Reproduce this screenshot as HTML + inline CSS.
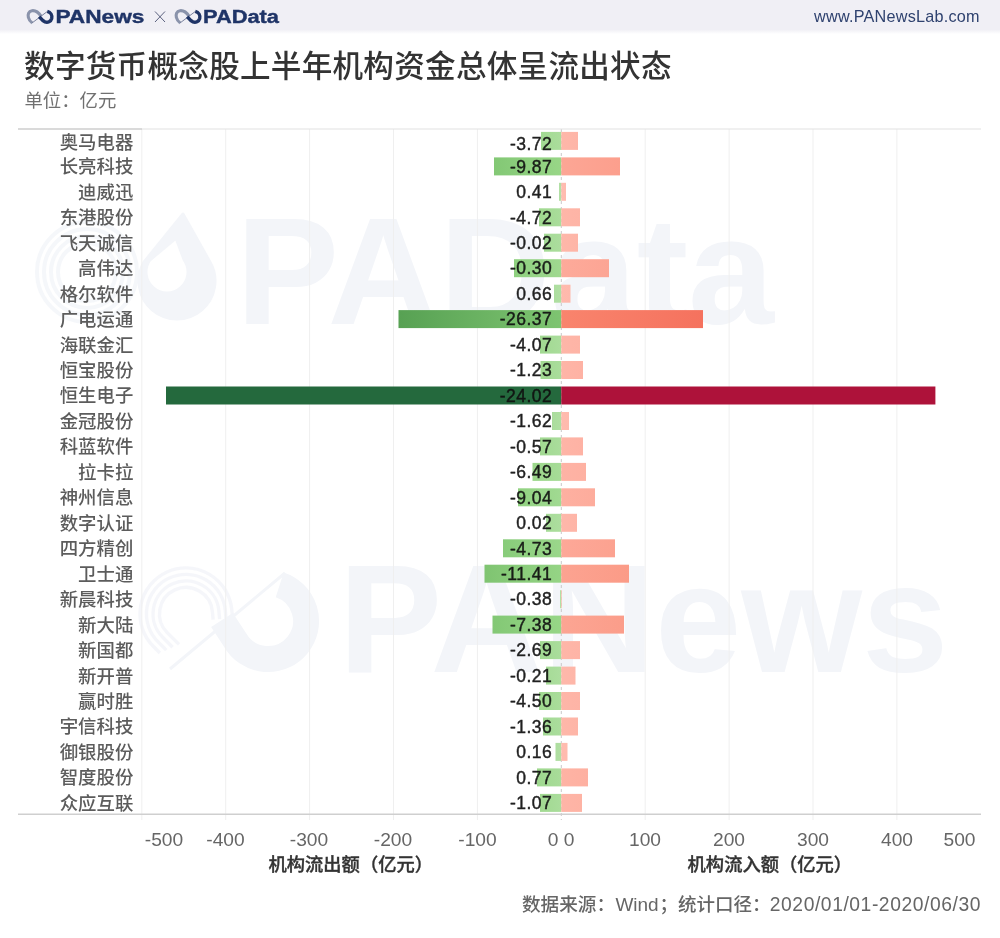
<!DOCTYPE html>
<html lang="zh"><head><meta charset="utf-8"><title>数字货币概念股上半年机构资金总体呈流出状态</title>
<style>
html,body{margin:0;padding:0;background:#fff;}
body{width:1000px;height:938px;overflow:hidden;font-family:"Liberation Sans","Noto Sans CJK SC",sans-serif;}
svg{display:block}
text{font-family:"Liberation Sans","Noto Sans CJK SC",sans-serif;}
.lab{font-size:18.4px;fill:#5c5c5c;font-weight:500;text-anchor:end}
.val{font-size:17.5px;fill:#101010;text-anchor:end;letter-spacing:0.45px;stroke:#101010;stroke-width:0.45px;opacity:0.93}
.tick{font-size:19.2px;fill:#666;text-anchor:middle}
.axt{font-size:18.3px;fill:#333;stroke:#333;stroke-width:0.35px;font-weight:500;text-anchor:middle}
</style></head><body>
<svg width="1000" height="938" viewBox="0 0 1000 938">
<defs>
<linearGradient id="hd" x1="0" y1="0" x2="0" y2="1"><stop offset="0" stop-color="#f0eff5"/><stop offset="0.87" stop-color="#f0eff5"/><stop offset="1" stop-color="#ffffff"/></linearGradient>
</defs>
<rect width="1000" height="938" fill="#fff"/>
<rect width="1000" height="34" fill="url(#hd)"/>

<g transform="translate(0,0)" fill="none" stroke-linecap="butt"><path d="M41 16.2 C38 11.5 34.5 10.4 32 10.7 C28.6 11.2 27.6 14.5 28.4 17.5 C29 20 30.5 21.8 32.2 22.8" stroke="#8a93ab" stroke-width="3.1"/><path d="M32 23 L47.5 11.3" stroke="#5a6585" stroke-width="0.8"/><path d="M47.3 11.4 C50.8 12.4 52.4 15.5 51.7 18.5 C50.9 21.6 47.6 22.9 45 21.9 C42.6 20.9 41 18.6 39.3 16.6" stroke="#1f3467" stroke-width="3.4"/></g>
<text x="55.4" y="23.1" font-size="19.2" font-weight="700" fill="#1f3467" stroke="#1f3467" stroke-width="0.4" textLength="89" lengthAdjust="spacingAndGlyphs">PANews</text>
<path d="M155 11.5 L165 22 M165 11.5 L155 22" stroke="#4a5070" stroke-width="0.9" fill="none"/>
<g transform="translate(148,0)" fill="none" stroke-linecap="butt"><path d="M41 16.2 C38 11.5 34.5 10.4 32 10.7 C28.6 11.2 27.6 14.5 28.4 17.5 C29 20 30.5 21.8 32.2 22.8" stroke="#8a93ab" stroke-width="3.1"/><path d="M32 23 L47.5 11.3" stroke="#5a6585" stroke-width="0.8"/><path d="M47.3 11.4 C50.8 12.4 52.4 15.5 51.7 18.5 C50.9 21.6 47.6 22.9 45 21.9 C42.6 20.9 41 18.6 39.3 16.6" stroke="#1f3467" stroke-width="3.4"/></g>
<text x="203" y="23.1" font-size="19.2" font-weight="700" fill="#1f3467" stroke="#1f3467" stroke-width="0.4" textLength="76" lengthAdjust="spacingAndGlyphs">PAData</text>
<text x="979.5" y="21.6" font-size="16.2" fill="#2f426f" text-anchor="end" textLength="165.4" lengthAdjust="spacing">www.PANewsLab.com</text>
<text x="24.1" y="77.3" font-size="30.6" fill="#333" font-weight="500" letter-spacing="0.25">数字货币概念股上半年机构资金总体呈流出状态</text>
<text x="24.4" y="107.4" font-size="18.4" fill="#707070">单位：亿元</text>
<g fill="none" stroke="#f3f5f9">
<circle cx="87" cy="272" r="50" stroke-width="4" opacity="0.8"/><circle cx="87" cy="272" r="43" stroke-width="4" opacity="0.8"/><circle cx="87" cy="272" r="36" stroke-width="4" opacity="0.8"/><circle cx="87" cy="272" r="29" stroke-width="4" opacity="0.8"/>
<path d="M183 214 L209.9 262 A38 38 0 1 1 144.1 262 Z M176 238 L184.2 260 A21 21 0 1 1 149.8 260 Z" fill="#f3f5f9" fill-rule="evenodd" stroke="#f3f5f9" stroke-width="3" stroke-linejoin="round"/>
</g>
<text x="236" y="323.5" font-size="153" font-weight="700" fill="#f3f5f9" textLength="538" lengthAdjust="spacingAndGlyphs">PAData</text>
<g fill="none" stroke="#f3f5f9">
<path d="M159.9 653.0 L153.5 646.5 A46 46 0 1 1 231.8 610.0 L232.5 618.0" stroke-width="3.4" opacity="0.85"/>
<path d="M166.3 650.1 L158.1 641.9 A39.5 39.5 0 1 1 225.3 610.6 L226.0 618.5" stroke-width="3.4" opacity="0.85"/>
<path d="M172.6 647.3 L162.7 637.3 A33 33 0 1 1 218.9 611.1 L219.6 619.1" stroke-width="3.4" opacity="0.85"/>
<path d="M179.0 644.4 L167.3 632.7 A26.5 26.5 0 1 1 212.4 611.7 L213.1 619.7" stroke-width="3.4" opacity="0.85"/>
<path d="M170 669 L285 573" stroke-width="3"/>
<path d="M279.7 584.9 A38 38 0 1 1 235.1 640.0 L222 620" stroke-width="26" stroke-linejoin="round"/>
</g>
<text x="338.5" y="672" font-size="154" font-weight="700" fill="#f3f5f9" textLength="610" lengthAdjust="spacingAndGlyphs">PANews</text>
<g stroke="#efefef" stroke-width="1">
<line x1="141.8" y1="129" x2="141.8" y2="820"/>
<line x1="225.7" y1="129" x2="225.7" y2="820"/>
<line x1="309.6" y1="129" x2="309.6" y2="820"/>
<line x1="393.5" y1="129" x2="393.5" y2="820"/>
<line x1="477.4" y1="129" x2="477.4" y2="820"/>
<line x1="645.2" y1="129" x2="645.2" y2="820"/>
<line x1="729.1" y1="129" x2="729.1" y2="820"/>
<line x1="813.0" y1="129" x2="813.0" y2="820"/>
<line x1="896.9" y1="129" x2="896.9" y2="820"/>
</g>
<line x1="561.3" y1="129" x2="561.3" y2="820" stroke="#c8c8c8" stroke-width="1" stroke-dasharray="3 3"/>
<line x1="18" y1="129" x2="981" y2="129" stroke="#e2e2e2" stroke-width="1.2"/>
<line x1="18" y1="129" x2="142" y2="129" stroke="#c4c4c4" stroke-width="1.2"/>
<line x1="18" y1="814.2" x2="981" y2="814.2" stroke="#cfcfcf" stroke-width="1.4"/>
<linearGradient id="g0" x1="1" y1="0" x2="0" y2="0"><stop offset="0" stop-color="#abdd9c"/><stop offset="1" stop-color="#a1da92"/></linearGradient>
<linearGradient id="r0" x1="0" y1="0" x2="1" y2="0"><stop offset="0" stop-color="#feb7a9"/><stop offset="1" stop-color="#feb5a7"/></linearGradient>
<rect x="541.0" y="131.9" width="20.3" height="18.0" fill="url(#g0)"/>
<rect x="561.3" y="131.9" width="16.7" height="18.0" fill="url(#r0)"/>
<linearGradient id="g1" x1="1" y1="0" x2="0" y2="0"><stop offset="0" stop-color="#98d687"/><stop offset="1" stop-color="#83c875"/></linearGradient>
<linearGradient id="r1" x1="0" y1="0" x2="1" y2="0"><stop offset="0" stop-color="#fca695"/><stop offset="1" stop-color="#fc9f8d"/></linearGradient>
<rect x="494.0" y="157.4" width="67.3" height="18.0" fill="url(#g1)"/>
<rect x="561.3" y="157.4" width="58.7" height="18.0" fill="url(#r1)"/>
<linearGradient id="g2" x1="1" y1="0" x2="0" y2="0"><stop offset="0" stop-color="#b2e0a5"/><stop offset="1" stop-color="#b1dfa4"/></linearGradient>
<linearGradient id="r2" x1="0" y1="0" x2="1" y2="0"><stop offset="0" stop-color="#ffbcb0"/><stop offset="1" stop-color="#ffbbaf"/></linearGradient>
<rect x="559.0" y="182.8" width="2.3" height="18.0" fill="url(#g2)"/>
<rect x="561.3" y="182.8" width="4.7" height="18.0" fill="url(#r2)"/>
<linearGradient id="g3" x1="1" y1="0" x2="0" y2="0"><stop offset="0" stop-color="#aadd9b"/><stop offset="1" stop-color="#a0d990"/></linearGradient>
<linearGradient id="r3" x1="0" y1="0" x2="1" y2="0"><stop offset="0" stop-color="#feb6a8"/><stop offset="1" stop-color="#feb4a6"/></linearGradient>
<rect x="539.0" y="208.3" width="22.3" height="18.0" fill="url(#g3)"/>
<rect x="561.3" y="208.3" width="18.7" height="18.0" fill="url(#r3)"/>
<linearGradient id="g4" x1="1" y1="0" x2="0" y2="0"><stop offset="0" stop-color="#acdd9e"/><stop offset="1" stop-color="#a4db95"/></linearGradient>
<linearGradient id="r4" x1="0" y1="0" x2="1" y2="0"><stop offset="0" stop-color="#feb7a9"/><stop offset="1" stop-color="#feb5a7"/></linearGradient>
<rect x="544.0" y="233.7" width="17.3" height="18.0" fill="url(#g4)"/>
<rect x="561.3" y="233.7" width="16.7" height="18.0" fill="url(#r4)"/>
<linearGradient id="g5" x1="1" y1="0" x2="0" y2="0"><stop offset="0" stop-color="#a0d990"/><stop offset="1" stop-color="#8ed07f"/></linearGradient>
<linearGradient id="r5" x1="0" y1="0" x2="1" y2="0"><stop offset="0" stop-color="#fdaa9a"/><stop offset="1" stop-color="#fca594"/></linearGradient>
<rect x="514.0" y="259.2" width="47.3" height="18.0" fill="url(#g5)"/>
<rect x="561.3" y="259.2" width="47.7" height="18.0" fill="url(#r5)"/>
<linearGradient id="g6" x1="1" y1="0" x2="0" y2="0"><stop offset="0" stop-color="#b0dfa3"/><stop offset="1" stop-color="#adde9f"/></linearGradient>
<linearGradient id="r6" x1="0" y1="0" x2="1" y2="0"><stop offset="0" stop-color="#ffbaad"/><stop offset="1" stop-color="#feb9ac"/></linearGradient>
<rect x="554.0" y="284.7" width="7.3" height="18.0" fill="url(#g6)"/>
<rect x="561.3" y="284.7" width="9.2" height="18.0" fill="url(#r6)"/>
<linearGradient id="g7" x1="1" y1="0" x2="0" y2="0"><stop offset="0" stop-color="#7ec471"/><stop offset="1" stop-color="#57a153"/></linearGradient>
<linearGradient id="r7" x1="0" y1="0" x2="1" y2="0"><stop offset="0" stop-color="#f9846d"/><stop offset="1" stop-color="#f5725e"/></linearGradient>
<rect x="398.5" y="310.1" width="162.8" height="18.0" fill="url(#g7)"/>
<rect x="561.3" y="310.1" width="141.7" height="18.0" fill="url(#r7)"/>
<linearGradient id="g8" x1="1" y1="0" x2="0" y2="0"><stop offset="0" stop-color="#aadd9c"/><stop offset="1" stop-color="#a1d991"/></linearGradient>
<linearGradient id="r8" x1="0" y1="0" x2="1" y2="0"><stop offset="0" stop-color="#feb6a8"/><stop offset="1" stop-color="#feb4a6"/></linearGradient>
<rect x="540.0" y="335.6" width="21.3" height="18.0" fill="url(#g8)"/>
<rect x="561.3" y="335.6" width="18.7" height="18.0" fill="url(#r8)"/>
<linearGradient id="g9" x1="1" y1="0" x2="0" y2="0"><stop offset="0" stop-color="#aadd9c"/><stop offset="1" stop-color="#a1d991"/></linearGradient>
<linearGradient id="r9" x1="0" y1="0" x2="1" y2="0"><stop offset="0" stop-color="#feb5a7"/><stop offset="1" stop-color="#feb2a4"/></linearGradient>
<rect x="540.5" y="361.0" width="20.8" height="18.0" fill="url(#g9)"/>
<rect x="561.3" y="361.0" width="21.7" height="18.0" fill="url(#r9)"/>
<rect x="166.0" y="386.5" width="395.3" height="18.0" fill="#24693d"/>
<rect x="561.3" y="386.5" width="374.1" height="18.0" fill="#ae123a"/>
<linearGradient id="g11" x1="1" y1="0" x2="0" y2="0"><stop offset="0" stop-color="#afdfa2"/><stop offset="1" stop-color="#abdd9d"/></linearGradient>
<linearGradient id="r11" x1="0" y1="0" x2="1" y2="0"><stop offset="0" stop-color="#ffbbae"/><stop offset="1" stop-color="#ffbaad"/></linearGradient>
<rect x="552.0" y="412.0" width="9.3" height="18.0" fill="url(#g11)"/>
<rect x="561.3" y="412.0" width="7.7" height="18.0" fill="url(#r11)"/>
<linearGradient id="g12" x1="1" y1="0" x2="0" y2="0"><stop offset="0" stop-color="#aadd9c"/><stop offset="1" stop-color="#a1d991"/></linearGradient>
<linearGradient id="r12" x1="0" y1="0" x2="1" y2="0"><stop offset="0" stop-color="#feb5a7"/><stop offset="1" stop-color="#feb2a4"/></linearGradient>
<rect x="540.0" y="437.4" width="21.3" height="18.0" fill="url(#g12)"/>
<rect x="561.3" y="437.4" width="21.7" height="18.0" fill="url(#r12)"/>
<linearGradient id="g13" x1="1" y1="0" x2="0" y2="0"><stop offset="0" stop-color="#a7dc98"/><stop offset="1" stop-color="#9bd78a"/></linearGradient>
<linearGradient id="r13" x1="0" y1="0" x2="1" y2="0"><stop offset="0" stop-color="#feb3a5"/><stop offset="1" stop-color="#feb1a2"/></linearGradient>
<rect x="532.5" y="462.9" width="28.8" height="18.0" fill="url(#g13)"/>
<rect x="561.3" y="462.9" width="24.7" height="18.0" fill="url(#r13)"/>
<linearGradient id="g14" x1="1" y1="0" x2="0" y2="0"><stop offset="0" stop-color="#a1da92"/><stop offset="1" stop-color="#91d281"/></linearGradient>
<linearGradient id="r14" x1="0" y1="0" x2="1" y2="0"><stop offset="0" stop-color="#feb0a1"/><stop offset="1" stop-color="#fdac9c"/></linearGradient>
<rect x="518.0" y="488.3" width="43.3" height="18.0" fill="url(#g14)"/>
<rect x="561.3" y="488.3" width="33.7" height="18.0" fill="url(#r14)"/>
<linearGradient id="g15" x1="1" y1="0" x2="0" y2="0"><stop offset="0" stop-color="#adde9f"/><stop offset="1" stop-color="#a6db97"/></linearGradient>
<linearGradient id="r15" x1="0" y1="0" x2="1" y2="0"><stop offset="0" stop-color="#feb7aa"/><stop offset="1" stop-color="#feb5a7"/></linearGradient>
<rect x="546.0" y="513.8" width="15.3" height="18.0" fill="url(#g15)"/>
<rect x="561.3" y="513.8" width="15.7" height="18.0" fill="url(#r15)"/>
<linearGradient id="g16" x1="1" y1="0" x2="0" y2="0"><stop offset="0" stop-color="#9bd78b"/><stop offset="1" stop-color="#88cc7a"/></linearGradient>
<linearGradient id="r16" x1="0" y1="0" x2="1" y2="0"><stop offset="0" stop-color="#fda898"/><stop offset="1" stop-color="#fca290"/></linearGradient>
<rect x="503.0" y="539.3" width="58.3" height="18.0" fill="url(#g16)"/>
<rect x="561.3" y="539.3" width="53.7" height="18.0" fill="url(#r16)"/>
<linearGradient id="g17" x1="1" y1="0" x2="0" y2="0"><stop offset="0" stop-color="#95d485"/><stop offset="1" stop-color="#7fc471"/></linearGradient>
<linearGradient id="r17" x1="0" y1="0" x2="1" y2="0"><stop offset="0" stop-color="#fca391"/><stop offset="1" stop-color="#fb9b87"/></linearGradient>
<rect x="484.5" y="564.7" width="76.8" height="18.0" fill="url(#g17)"/>
<rect x="561.3" y="564.7" width="67.7" height="18.0" fill="url(#r17)"/>
<linearGradient id="g18" x1="1" y1="0" x2="0" y2="0"><stop offset="0" stop-color="#b2e0a5"/><stop offset="1" stop-color="#b2e0a5"/></linearGradient>
<linearGradient id="r18" x1="0" y1="0" x2="1" y2="0"><stop offset="0" stop-color="#ffbeb2"/><stop offset="1" stop-color="#ffbeb2"/></linearGradient>
<rect x="560.0" y="590.2" width="1.3" height="18.0" fill="url(#g18)"/>
<rect x="561.3" y="590.2" width="0.7" height="18.0" fill="url(#r18)"/>
<linearGradient id="g19" x1="1" y1="0" x2="0" y2="0"><stop offset="0" stop-color="#97d687"/><stop offset="1" stop-color="#83c875"/></linearGradient>
<linearGradient id="r19" x1="0" y1="0" x2="1" y2="0"><stop offset="0" stop-color="#fca593"/><stop offset="1" stop-color="#fb9d8a"/></linearGradient>
<rect x="492.5" y="615.6" width="68.8" height="18.0" fill="url(#g19)"/>
<rect x="561.3" y="615.6" width="62.7" height="18.0" fill="url(#r19)"/>
<linearGradient id="g20" x1="1" y1="0" x2="0" y2="0"><stop offset="0" stop-color="#aadd9c"/><stop offset="1" stop-color="#a1d991"/></linearGradient>
<linearGradient id="r20" x1="0" y1="0" x2="1" y2="0"><stop offset="0" stop-color="#feb6a8"/><stop offset="1" stop-color="#feb4a6"/></linearGradient>
<rect x="540.0" y="641.1" width="21.3" height="18.0" fill="url(#g20)"/>
<rect x="561.3" y="641.1" width="18.7" height="18.0" fill="url(#r20)"/>
<linearGradient id="g21" x1="1" y1="0" x2="0" y2="0"><stop offset="0" stop-color="#adde9f"/><stop offset="1" stop-color="#a6db97"/></linearGradient>
<linearGradient id="r21" x1="0" y1="0" x2="1" y2="0"><stop offset="0" stop-color="#feb8ab"/><stop offset="1" stop-color="#feb6a8"/></linearGradient>
<rect x="546.0" y="666.6" width="15.3" height="18.0" fill="url(#g21)"/>
<rect x="561.3" y="666.6" width="14.2" height="18.0" fill="url(#r21)"/>
<linearGradient id="g22" x1="1" y1="0" x2="0" y2="0"><stop offset="0" stop-color="#aadd9b"/><stop offset="1" stop-color="#a0d990"/></linearGradient>
<linearGradient id="r22" x1="0" y1="0" x2="1" y2="0"><stop offset="0" stop-color="#feb6a8"/><stop offset="1" stop-color="#feb4a6"/></linearGradient>
<rect x="539.0" y="692.0" width="22.3" height="18.0" fill="url(#g22)"/>
<rect x="561.3" y="692.0" width="18.7" height="18.0" fill="url(#r22)"/>
<linearGradient id="g23" x1="1" y1="0" x2="0" y2="0"><stop offset="0" stop-color="#abdd9d"/><stop offset="1" stop-color="#a3da94"/></linearGradient>
<linearGradient id="r23" x1="0" y1="0" x2="1" y2="0"><stop offset="0" stop-color="#feb7a9"/><stop offset="1" stop-color="#feb5a7"/></linearGradient>
<rect x="543.0" y="717.5" width="18.3" height="18.0" fill="url(#g23)"/>
<rect x="561.3" y="717.5" width="16.7" height="18.0" fill="url(#r23)"/>
<linearGradient id="g24" x1="1" y1="0" x2="0" y2="0"><stop offset="0" stop-color="#b1dfa3"/><stop offset="1" stop-color="#aedea0"/></linearGradient>
<linearGradient id="r24" x1="0" y1="0" x2="1" y2="0"><stop offset="0" stop-color="#ffbbaf"/><stop offset="1" stop-color="#ffbbae"/></linearGradient>
<rect x="555.5" y="742.9" width="5.8" height="18.0" fill="url(#g24)"/>
<rect x="561.3" y="742.9" width="6.2" height="18.0" fill="url(#r24)"/>
<linearGradient id="g25" x1="1" y1="0" x2="0" y2="0"><stop offset="0" stop-color="#a9dc9a"/><stop offset="1" stop-color="#9ed88e"/></linearGradient>
<linearGradient id="r25" x1="0" y1="0" x2="1" y2="0"><stop offset="0" stop-color="#feb3a4"/><stop offset="1" stop-color="#feb0a1"/></linearGradient>
<rect x="537.0" y="768.4" width="24.3" height="18.0" fill="url(#g25)"/>
<rect x="561.3" y="768.4" width="26.7" height="18.0" fill="url(#r25)"/>
<linearGradient id="g26" x1="1" y1="0" x2="0" y2="0"><stop offset="0" stop-color="#aadd9c"/><stop offset="1" stop-color="#a1d991"/></linearGradient>
<linearGradient id="r26" x1="0" y1="0" x2="1" y2="0"><stop offset="0" stop-color="#feb5a7"/><stop offset="1" stop-color="#feb3a4"/></linearGradient>
<rect x="540.0" y="793.9" width="21.3" height="18.0" fill="url(#g26)"/>
<rect x="561.3" y="793.9" width="20.7" height="18.0" fill="url(#r26)"/>
<text class="lab" x="133.3" y="148.7">奥马电器</text>
<text class="val" x="552.1" y="150.1">-3.72</text>
<text class="lab" x="133.3" y="173.3">长亮科技</text>
<text class="val" x="552.1" y="172.6">-9.87</text>
<text class="lab" x="133.3" y="198.7">迪威迅</text>
<text class="val" x="552.1" y="198.0">0.41</text>
<text class="lab" x="133.3" y="224.2">东港股份</text>
<text class="val" x="552.1" y="223.5">-4.72</text>
<text class="lab" x="133.3" y="249.6">飞天诚信</text>
<text class="val" x="552.1" y="248.9">-0.02</text>
<text class="lab" x="133.3" y="275.1">高伟达</text>
<text class="val" x="552.1" y="274.4">-0.30</text>
<text class="lab" x="133.3" y="300.6">格尔软件</text>
<text class="val" x="552.1" y="299.9">0.66</text>
<text class="lab" x="133.3" y="326.0">广电运通</text>
<text class="val" x="552.1" y="325.3">-26.37</text>
<text class="lab" x="133.3" y="351.5">海联金汇</text>
<text class="val" x="552.1" y="350.8">-4.07</text>
<text class="lab" x="133.3" y="376.9">恒宝股份</text>
<text class="val" x="552.1" y="376.2">-1.23</text>
<text class="lab" x="133.3" y="402.4">恒生电子</text>
<text class="val" x="552.1" y="401.7">-24.02</text>
<text class="lab" x="133.3" y="427.9">金冠股份</text>
<text class="val" x="552.1" y="427.2">-1.62</text>
<text class="lab" x="133.3" y="453.3">科蓝软件</text>
<text class="val" x="552.1" y="452.6">-0.57</text>
<text class="lab" x="133.3" y="478.8">拉卡拉</text>
<text class="val" x="552.1" y="478.1">-6.49</text>
<text class="lab" x="133.3" y="504.2">神州信息</text>
<text class="val" x="552.1" y="503.5">-9.04</text>
<text class="lab" x="133.3" y="529.7">数字认证</text>
<text class="val" x="552.1" y="529.0">0.02</text>
<text class="lab" x="133.3" y="555.2">四方精创</text>
<text class="val" x="552.1" y="554.5">-4.73</text>
<text class="lab" x="133.3" y="580.6">卫士通</text>
<text class="val" x="552.1" y="579.9">-11.41</text>
<text class="lab" x="133.3" y="606.1">新晨科技</text>
<text class="val" x="552.1" y="605.4">-0.38</text>
<text class="lab" x="133.3" y="631.5">新大陆</text>
<text class="val" x="552.1" y="630.8">-7.38</text>
<text class="lab" x="133.3" y="657.0">新国都</text>
<text class="val" x="552.1" y="656.3">-2.69</text>
<text class="lab" x="133.3" y="682.5">新开普</text>
<text class="val" x="552.1" y="681.8">-0.21</text>
<text class="lab" x="133.3" y="707.9">赢时胜</text>
<text class="val" x="552.1" y="707.2">-4.50</text>
<text class="lab" x="133.3" y="733.4">宇信科技</text>
<text class="val" x="552.1" y="732.7">-1.36</text>
<text class="lab" x="133.3" y="758.8">御银股份</text>
<text class="val" x="552.1" y="758.1">0.16</text>
<text class="lab" x="133.3" y="784.3">智度股份</text>
<text class="val" x="552.1" y="783.6">0.77</text>
<text class="lab" x="133.3" y="809.8">众应互联</text>
<text class="val" x="552.1" y="809.1">-1.07</text>
<text class="tick" x="164.0" y="846">-500</text>
<text class="tick" x="225.5" y="846">-400</text>
<text class="tick" x="309.0" y="846">-300</text>
<text class="tick" x="393.0" y="846">-200</text>
<text class="tick" x="477.5" y="846">-100</text>
<text class="tick" x="553.0" y="846">0</text>
<text class="tick" x="569.0" y="846">0</text>
<text class="tick" x="645.0" y="846">100</text>
<text class="tick" x="729.0" y="846">200</text>
<text class="tick" x="813.0" y="846">300</text>
<text class="tick" x="897.0" y="846">400</text>
<text class="tick" x="959.5" y="846">500</text>
<text class="axt" x="350.75" y="870.8">机构流出额（亿元）</text>
<text class="axt" x="769.85" y="870.8">机构流入额（亿元）</text>
<text y="910.7" fill="#666"><tspan x="522" font-size="18.6" font-weight="500">数据来源：</tspan><tspan x="615.4" font-size="19">Wind</tspan><tspan x="659.5" font-size="18.5" font-weight="500">；统计口径：</tspan><tspan x="769.8" font-size="19.3" textLength="210.6" lengthAdjust="spacing">2020/01/01-2020/06/30</tspan></text>
</svg></body></html>
